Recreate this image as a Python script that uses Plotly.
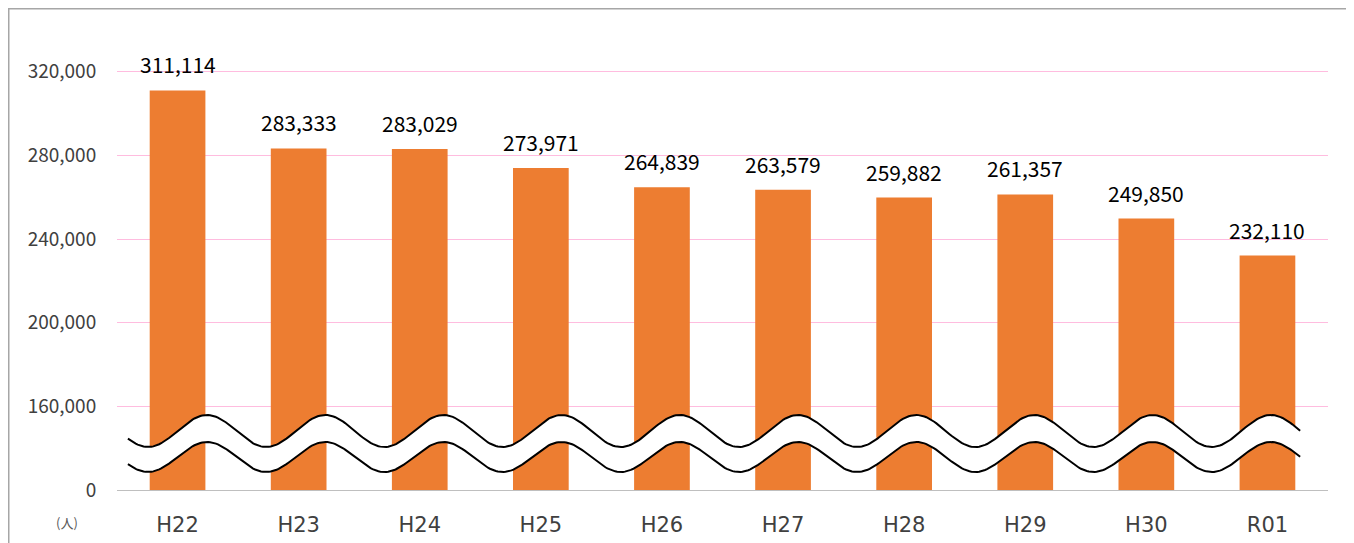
import numpy as np
import plotly.graph_objects as go

categories = ["H22", "H23", "H24", "H25", "H26", "H27", "H28", "H29", "H30", "R01"]
values = [311114, 283333, 283029, 273971, 264839, 263579, 259882, 261357, 249850, 232110]
tick_vals = [120000, 160000, 200000, 240000, 280000, 320000]
tick_text = ["0", "160,000", "200,000", "240,000", "280,000", "320,000"]
unit_label = "(人)"

# page body has an 8px margin, so the figure is drawn at (8, 8)
OFF = 8
W, H = 1354 - OFF, 543 - OFF
PL, PR, PT, PB = 117, 1328, 30, 490          # plot area in screenshot pixels
ML, MR, MT, MB = PL - OFF, W - (PR - OFF), PT - OFF, H - (PB - OFF)
YMIN, YMAX = 120000, 340000
FONT = "Noto Sans CJK JP, Noto Sans, sans-serif"
XFONT = "DejaVu Sans, sans-serif"

xs = list(range(len(categories)))
pw, ph = PR - PL, PB - PT

fig = go.Figure()
fig.add_trace(go.Bar(
    x=xs, y=[v - YMIN for v in values], base=YMIN,
    marker=dict(color="#ED7D31", line=dict(width=0)),
    width=0.46, hoverinfo="skip",
))

# decorative axis-break wave band
ppu = ph / (YMAX - YMIN)
def px_to_val(py):
    return YMIN + (PB - py) / ppu
P = 0.976
wx = np.linspace(-0.41, 9.27, 600)
top_c, top_a = px_to_val(431), 16 / ppu
bot_c, bot_a = px_to_val(457), 15 / ppu
top_y = top_c + top_a * np.sin(2 * np.pi * wx / P)
bot_y = bot_c + bot_a * np.sin(2 * np.pi * wx / P)

fig.add_trace(go.Scatter(
    x=np.concatenate([wx, wx[::-1]]), y=np.concatenate([top_y, bot_y[::-1]]),
    fill="toself", fillcolor="white", mode="none", hoverinfo="skip",
))
for yy in (top_y, bot_y):
    fig.add_trace(go.Scatter(x=wx, y=yy, mode="lines",
                             line=dict(color="black", width=2), hoverinfo="skip"))

for x, v in zip(xs, values):
    fig.add_annotation(x=x, y=v, text=f"{v:,}", showarrow=False,
                       yanchor="bottom", yshift=9,
                       font=dict(size=21, color="black", family=FONT))

fig.add_annotation(xref="paper", yref="paper", x=(66.5 - PL) / pw,
                   y=(PB - 522) / ph, text=unit_label, showarrow=False,
                   xanchor="center", yanchor="middle",
                   font=dict(size=13, color="#595959", family=FONT))

# chart border (left + top)
fig.add_shape(type="line", xref="paper", yref="paper",
              x0=(8.75 - PL) / pw, x1=(8.75 - PL) / pw, y0=(PB - 580) / ph, y1=(PB - 8) / ph,
              line=dict(color="#a6a6a6", width=1.5))
fig.add_shape(type="line", xref="paper", yref="paper",
              x0=(8 - PL) / pw, x1=(1380 - PL) / pw, y0=(PB - 8.5) / ph, y1=(PB - 8.5) / ph,
              line=dict(color="#a6a6a6", width=2))

fig.update_layout(
    width=W, height=H, margin=dict(l=ML, r=MR, t=MT, b=MB, autoexpand=False),
    paper_bgcolor="white", plot_bgcolor="white", showlegend=False,
    font=dict(family=FONT, color="#404040"),
    xaxis=dict(range=[-0.5, 9.5], tickmode="array", tickvals=xs, ticktext=categories,
               showgrid=False, zeroline=False, showline=True, linecolor="#bfbfbf", linewidth=1,
               ticks="outside", ticklen=16, tickcolor="rgba(0,0,0,0)",
               tickfont=dict(size=21, color="#404040", family=XFONT)),
    yaxis=dict(range=[YMIN, YMAX], tickmode="array", tickvals=tick_vals, ticktext=tick_text,
               showgrid=True, gridcolor="#ffbcdf", gridwidth=1, zeroline=False, showline=False,
               ticks="outside", ticklen=16, tickcolor="rgba(0,0,0,0)",
               tickfont=dict(size=19, color="#404040", family=FONT)),
)
fig.write_html("out.html")
